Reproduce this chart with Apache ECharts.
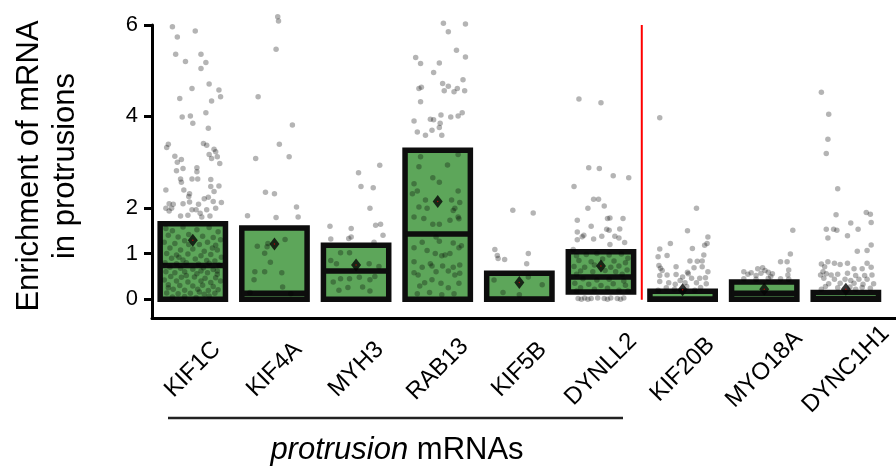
<!DOCTYPE html>
<html><head><meta charset="utf-8">
<script src="https://cdn.jsdelivr.net/npm/echarts@6/dist/echarts.min.js"></script>
<style>html,body{margin:0;padding:0;background:#fff}#c{width:896px;height:468px}</style>
</head><body><div id="c"></div><script>
const categories = ['KIF1C','KIF4A','MYH3','RAB13','KIF5B','DYNLL2','KIF20B','MYO18A','DYNC1H1'];
const lowerQ  = [0, 0, 0, 0, 0, 0.16, 0, 0, 0];
const upperQ  = [1.65, 1.56, 1.18, 3.26, 0.57, 1.04, 0.175, 0.38, 0.15];
const medians = [0.74, 0.13, 0.62, 1.43, 0.0, 0.49, 0.0, 0.13, 0.01];
const means   = [1.29, 1.21, 0.75, 2.14, 0.37, 0.73, 0.21, 0.22, 0.22];
const yTicks  = [0, 1, 2, 4, 6];
const separatorAt = 5.5;
const yTitle = 'Enrichment of mRNA\nin protrusions';
const groupLabelItalic = 'protrusion';
const groupLabelRest = ' mRNAs';

// individual cells: [jitter within category band, enrichment value]
const ptsKIF1C = [[-0.25,5.96],[-0.19,5.74],[0.03,5.87],[-0.21,5.36],[0.10,5.36],[-0.09,5.20],[0.16,5.18],[0.10,5.05],[0.20,4.71],[-0.01,4.61],[0.32,4.58],[0.34,4.43],[-0.16,4.39],[0.23,4.34],[0.16,4.08],[-0.13,3.99],[-0.03,4.01],[0,3.85],[0.19,3.74],[-0.30,3.39],[-0.32,3.32],[0.13,3.41],[0.17,3.37],[0.26,3.28],[0.28,3.23],[-0.22,3.13],[-0.14,3.06],[0.20,3.17],[0.23,3.08],[0.30,3.12],[0.33,2.97],[-0.19,3.00],[-0.12,2.86],[0.05,2.88],[0.05,2.79],[-0.20,2.81],[-0.01,2.63],[0.06,2.63],[-0.15,2.63],[-0.14,2.56],[0.22,2.62],[0.22,2.47],[0.32,2.48],[-0.33,2.39],[-0.11,2.39],[0.26,2.36],[-0.04,2.31],[-0.05,2.25],[0.19,2.23],[0.25,2.14],[0.35,2.12],[0.14,2.20],[-0.29,2.09],[-0.24,2.08],[-0.12,2.09],[-0.04,2.13],[0.07,2.08],[-0.33,1.99],[-0.29,1.93],[-0.26,1.99],[-0.15,1.82],[-0.01,1.96],[0.04,1.96],[0.09,1.88],[0.17,1.96],[0.28,1.99],[0.21,1.82],[0.11,1.80],[-0.06,1.84],
[-0.33,1.55],[-0.25,1.5],[-0.12,1.58],[0.05,1.52],[0.2,1.57],[0.31,1.48],[-0.3,1.4],[-0.18,1.36],[-0.05,1.42],[0.12,1.38],[0.25,1.35],[0.34,1.3],[-0.35,1.25],[-0.22,1.22],[-0.1,1.28],[0.08,1.2],[0.18,1.25],[0.28,1.18],[-0.28,1.12],[-0.15,1.08],[0.0,1.1],[0.14,1.05],[0.3,1.08],[-0.32,1.0],[-0.2,0.97],[-0.06,0.99],[0.1,0.95],[0.22,0.98],[0.35,0.92],[-0.26,0.9],[-0.12,0.86],[0.03,0.88],[0.17,0.85],[0.27,0.84],[-0.34,0.8],[-0.2,0.78],[-0.08,0.8],[0.07,0.77],[0.2,0.79],[0.32,0.75],[-0.28,0.7],[-0.15,0.68],[0.0,0.66],[0.13,0.69],[0.25,0.65],[-0.33,0.6],[-0.22,0.58],[-0.1,0.6],[0.05,0.56],[0.18,0.58],[0.3,0.55],[-0.27,0.5],[-0.14,0.48],[0.02,0.49],[0.15,0.46],[0.28,0.47],[-0.35,0.42],[-0.2,0.4],[-0.06,0.38],[0.1,0.4],[0.22,0.37],[0.34,0.4],[-0.3,0.32],[-0.16,0.3],[0.0,0.29],[0.12,0.31],[0.25,0.28],[-0.24,0.22],[-0.1,0.2],[0.06,0.22],[0.19,0.19],[0.31,0.21],[-0.32,0.14],[-0.18,0.12],[-0.03,0.13],[0.14,0.11],[0.27,0.13],[-0.1,0.06],[0.04,0.04],[0.2,0.07],[-0.25,0.05],[-0.05,1.2],[0.24,1.12],[-0.17,0.92],[0.1,0.62],[-0.08,0.52],[0.3,0.62],[-0.3,0.25],[0.08,0.16]];
const ptsKIF4A = [[0.04,6.18],[0.05,6.09],[0.02,5.47],[-0.20,4.43],[0.22,3.81],[0.06,3.39],[-0.23,3.08],[0.18,3.12],[-0.11,2.34],[0,2.31],[0.27,2.02],[-0.33,1.83],[0.02,1.79],[0.29,1.80],[-0.21,1.16],[-0.09,1.15],[-0.12,1.01],[-0.05,0.81],[0.13,1.31],[-0.24,0.60],[-0.12,0.60],[0.09,0.58],[-0.25,0.43],[0.10,0.27],[-0.08,1.22],[-0.3,0.15],[0.2,0.12]];
const ptsMYH3 = [[0.29,2.93],[0.03,2.77],[0.06,2.47],[0.21,2.44],[0.17,1.99],[-0.32,1.60],[-0.06,1.55],[-0.31,1.32],[-0.09,1.33],[-0.06,1.36],[0.24,1.62],[0.30,1.64],[0.33,1.40],[0.22,1.25],[-0.19,1.02],[-0.08,1.02],[-0.31,0.85],[-0.24,0.78],[0.28,0.72],[0.16,0.78],[-0.19,0.45],[-0.08,0.45],[0.04,0.48],[0.17,0.43],[-0.28,0.38],[-0.10,0.26],[0.08,0.27],[0.17,0.18],[-0.21,0.20],[0.23,0.50]];
const ptsRAB13 = [[0.07,6.04],[0.34,6.02],[0.13,5.85],[-0.27,5.29],[-0.21,5.16],[0.23,5.45],[0.34,5.30],[0.02,5.17],[-0.05,4.96],[-0.23,4.61],[-0.20,4.64],[0.06,4.72],[0.13,4.66],[0.08,4.56],[0.20,4.54],[0.24,4.61],[0.31,4.80],[0.33,4.56],[-0.21,4.32],[-0.29,3.90],[-0.09,3.94],[-0.05,3.93],[0.04,4.03],[0.03,3.85],[0.02,3.76],[0.16,3.99],[0.25,4.01],[0.30,4.08],[-0.25,3.66],[-0.15,3.59],[-0.07,3.70],[0.05,3.59],
[-0.21,3.12],[0.25,3.17],[0.12,2.94],[-0.23,2.90],[-0.06,2.66],[-0.29,2.53],[0.02,2.56],[-0.31,2.31],[-0.15,2.17],[-0.25,2.37],[0.25,2.37],[0.17,2.17],[0.27,2.12],[-0.13,1.99],[-0.23,2.02],[0.21,1.99],[0.19,1.94],[0.25,1.80],[-0.29,1.80],[-0.17,1.77],[-0.06,1.64],[0.02,1.64],[0.26,1.76],[0.15,1.73],[-0.19,1.25],[0.02,1.27],[0.19,1.23],[0.29,1.17],[0.26,1.13],[-0.13,1.07],[-0.03,1.00],[0.05,0.95],[0.09,0.97],[0.15,1.00],[-0.29,0.82],[-0.09,0.78],[-0.07,0.73],[0.06,0.73],[0.27,0.75],[-0.19,0.70],[0.19,0.70],[0.13,0.62],[-0.02,0.60],[-0.29,0.58],[-0.24,0.53],[0.21,0.53],[0.27,0.57],[-0.07,0.43],[-0.16,0.36],[0.04,0.35],[0.26,0.35],[-0.22,0.29],[0.13,0.25],[-0.29,1.13],[-0.02,1.36],[-0.1,0.15],[0.2,0.12],[0.05,0.1],[-0.25,0.12]];
const ptsKIF5B = [[-0.08,1.95],[0.17,1.89],[-0.30,1.09],[-0.27,0.96],[-0.26,0.89],[-0.18,0.87],[0.11,1.00],[0.09,0.78],[-0.31,0.42],[0.28,0.32],[0.11,0.49],[0.0,0.1],[-0.2,0.15]];
const ptsDYNLL2 = [[-0.27,4.38],[0,4.30],[-0.15,2.88],[-0.02,2.86],[0.15,2.70],[0.34,2.66],[-0.33,2.47],[-0.09,2.19],[-0.03,2.19],[-0.16,1.99],[0.04,2.04],[-0.29,1.73],[-0.12,1.60],[0.08,1.77],[0.11,1.78],[0.27,1.77],[0.07,1.53],[0.10,1.51],[0.23,1.54],[-0.29,1.47],[-0.21,1.40],[-0.23,1.37],[0.01,1.38],[0.17,1.38],[0.22,1.34],[-0.29,1.30],[-0.09,1.32],[0.11,1.20],[0.29,1.24],[-0.34,1.09],
[-0.3,0.95],[-0.18,0.98],[-0.05,1.0],[0.1,0.97],[0.25,0.99],[0.33,0.9],[-0.27,0.85],[-0.12,0.82],[0.02,0.88],[0.16,0.84],[0.3,0.8],[-0.33,0.72],[-0.2,0.7],[-0.08,0.75],[0.12,0.7],[0.22,0.73],[-0.25,0.62],[-0.1,0.6],[0.05,0.63],[0.18,0.6],[0.32,0.64],[-0.3,0.55],[0.26,0.55],[-0.22,0.45],[-0.05,0.42],[0.1,0.44],[0.28,0.4],[-0.32,0.35],[-0.15,0.33],[0.0,0.3],[0.15,0.34],[0.3,0.31],[-0.25,0.25],[-0.08,0.22],[0.08,0.24],[0.22,0.2],[-0.3,0.18],[0.33,0.18],
[-0.28,0.02],[-0.2,0.03],[-0.12,0.02],[-0.04,0.03],[0.04,0.02],[0.12,0.03],[0.2,0.02],[0.28,0.03],[-0.16,0.0],[0.08,0.0],[0.24,0.0],[-0.24,0.0]];
const ptsKIF20B = [[-0.28,3.97],[0.17,1.99],[0.06,1.50],[-0.15,1.22],[-0.28,1.10],[0.31,1.36],[0.30,1.22],[0.27,1.18],[0.12,1.11],[-0.19,0.96],[-0.30,0.93],[0.26,0.97],[0.09,0.84],[0.18,0.83],[0.24,0.84],[-0.29,0.74],[-0.27,0.68],[-0.08,0.71],[0.14,0.69],[0.24,0.71],[-0.25,0.63],[0.31,0.60],[0.06,0.59],[-0.28,0.52],[-0.19,0.53],[-0.08,0.54],[0.0,0.49],[0.07,0.56],[0.11,0.46],[0.21,0.46],[0.28,0.47],[-0.28,0.39],[-0.17,0.36],[-0.03,0.41],[0.03,0.36],[0.17,0.36],[0.29,0.34],[-0.09,0.33],[-0.2,0.25],[0.05,0.28],[0.22,0.26],[-0.1,0.22],[0.15,0.2],[-0.3,0.2]];
const ptsMYO18A = [[0.35,1.51],[0.32,0.99],[0.20,0.82],[0.28,0.82],[0.30,0.64],[-0.25,0.60],[-0.16,0.58],[-0.08,0.67],[-0.02,0.69],[0.01,0.63],[0.05,0.59],[0.10,0.56],[-0.04,0.57],[-0.20,0.55],[0.29,0.53],[-0.10,0.52],[0.08,0.50],[-0.25,0.45],[-0.1,0.44],[0.05,0.46],[0.2,0.45],[0.3,0.44]];
const ptsDYNC1H1 = [[-0.30,4.53],[-0.21,4.05],[-0.22,3.50],[-0.24,3.19],[-0.10,2.42],[-0.12,1.85],[0.25,1.90],[0.30,1.86],[0.06,1.67],[0.31,1.68],[-0.24,1.53],[-0.15,1.53],[-0.11,1.51],[0.15,1.53],[0.02,1.39],[-0.22,1.34],[0.31,1.19],[0.14,1.05],[0.26,1.07],[-0.30,0.77],[-0.26,0.71],[-0.22,0.82],[-0.14,0.79],[-0.07,0.76],[0.02,0.79],[0.10,0.67],[0.20,0.67],[0.26,0.79],[0.31,0.70],[-0.28,0.60],[-0.24,0.56],[-0.18,0.53],[-0.10,0.55],[0.02,0.57],[0.12,0.52],[0.23,0.52],[0.32,0.53],[-0.27,0.46],[-0.14,0.44],[-0.01,0.44],[0.06,0.41],[0.16,0.44],[0.26,0.44],[0.34,0.34],[-0.21,0.34],[-0.07,0.35],[0.10,0.35],[0.21,0.33],[-0.31,0.53],[-0.25,0.28],[-0.1,0.25],[0.05,0.27],[0.2,0.26],[0.3,0.24],[-0.3,0.22],[0.12,0.22]];
const pointSets = [ptsKIF1C, ptsKIF4A, ptsMYH3, ptsRAB13, ptsKIF5B, ptsDYNLL2, ptsKIF20B, ptsMYO18A, ptsDYNC1H1];

const FONT = '"Liberation Sans", Arial, Helvetica, sans-serif';
const jittered = [];
pointSets.forEach((set, i) => set.forEach(p => jittered.push([i + p[0], p[1]])));
const boxData = categories.map((c, i) => [i, lowerQ[i], upperQ[i], medians[i]]);
const meanData = categories.map((c, i) => [i, means[i]]);

const chart = echarts.init(document.getElementById('c'), null, {renderer: 'canvas'});
chart.setOption({
  animation: false,
  backgroundColor: '#fff',
  grid: {left: 152, right: 8, top: 25, bottom: 149.5, containLabel: false},
  xAxis: [{
    type: 'category', data: categories, boundaryGap: true,
    axisLine: {onZero: false, lineStyle: {color: '#000', width: 3}},
    axisTick: {alignWithLabel: true, length: 5, lineStyle: {color: '#000', width: 3}},
    axisLabel: {interval: 0, rotate: 45, fontSize: 24, color: '#000', fontFamily: FONT, margin: 51, align: 'center', verticalAlign: 'middle'},
    splitLine: {show: false}
  }, {
    type: 'value', min: -0.5, max: 8.5, show: false,
    axisLine: {onZero: false}
  }],
  yAxis: {
    type: 'value', min: -0.42, max: 6,
    axisLine: {show: true, onZero: false, lineStyle: {color: '#000', width: 3}},
    axisTick: {show: true, customValues: yTicks, length: 8, lineStyle: {color: '#000', width: 3}},
    axisLabel: {customValues: yTicks, fontSize: 22, color: '#000', fontFamily: FONT, margin: 14},
    splitLine: {show: false}
  },
  graphic: [
    {type: 'text', x: 47, y: 166, rotation: Math.PI / 2,
     style: {text: yTitle, font: '31px ' + FONT, fill: '#000', textAlign: 'center', textVerticalAlign: 'middle', lineHeight: 36}},
    {type: 'line', shape: {x1: 168, y1: 418, x2: 623, y2: 418}, style: {stroke: '#222', lineWidth: 2.5}},
    {type: 'line', shape: {x1: 886, y1: 318.5, x2: 896, y2: 318.5}, style: {stroke: '#000', lineWidth: 3}},
    {type: 'text', x: 397, y: 450,
     style: {text: '{i|' + groupLabelItalic + '}{n|' + groupLabelRest + '}', textAlign: 'center', textVerticalAlign: 'middle',
       rich: {i: {fontSize: 31, fontStyle: 'italic', fontFamily: FONT, fill: '#000'}, n: {fontSize: 31, fontFamily: FONT, fill: '#000'}}}}
  ],
  series: [
    {
      type: 'custom', xAxisIndex: 0, data: boxData, z: 2,
      renderItem: function (params, api) {
        const i = api.value(0);
        const pHi = api.coord([i, api.value(2)]);
        const pLo = api.coord([i, api.value(1)]);
        const pMed = api.coord([i, api.value(3)]);
        const bw = api.size([1, 0])[0] * 0.8;
        return {type: 'group', children: [
          {type: 'rect', shape: {x: pHi[0] - bw / 2, y: pHi[1], width: bw, height: pLo[1] - pHi[1]},
           style: {fill: '#5da65a', stroke: '#0d0d0d', lineWidth: 5.5, lineJoin: 'miter'}},
          {type: 'line', shape: {x1: pHi[0] - bw / 2, y1: pMed[1], x2: pHi[0] + bw / 2, y2: pMed[1]},
           style: {stroke: '#0d0d0d', lineWidth: 5.5}}
        ]};
      }
    },
    {
      type: 'scatter', xAxisIndex: 1, data: jittered, z: 3, clip: false,
      symbol: 'circle', symbolSize: 5.5,
      itemStyle: {color: 'rgba(0,0,0,0.37)'}
    },
    {
      type: 'scatter', xAxisIndex: 0, data: meanData, z: 4, clip: false,
      symbol: 'diamond', symbolSize: [10, 13], itemStyle: {color: '#050505'}
    },
    {
      type: 'scatter', xAxisIndex: 0, data: meanData, z: 5, clip: false,
      symbol: 'circle', symbolSize: 1.5, itemStyle: {color: '#e00000'}
    },
    {
      type: 'custom', xAxisIndex: 1, data: [[separatorAt, -0.01, 6]], z: 3,
      renderItem: function (params, api) {
        const a = api.coord([api.value(0), api.value(2)]);
        const b = api.coord([api.value(0), api.value(1)]);
        return {type: 'line', shape: {x1: a[0], y1: a[1], x2: b[0], y2: b[1]}, style: {stroke: '#ff0000', lineWidth: 2}};
      }
    }
  ]
});
</script></body></html>
